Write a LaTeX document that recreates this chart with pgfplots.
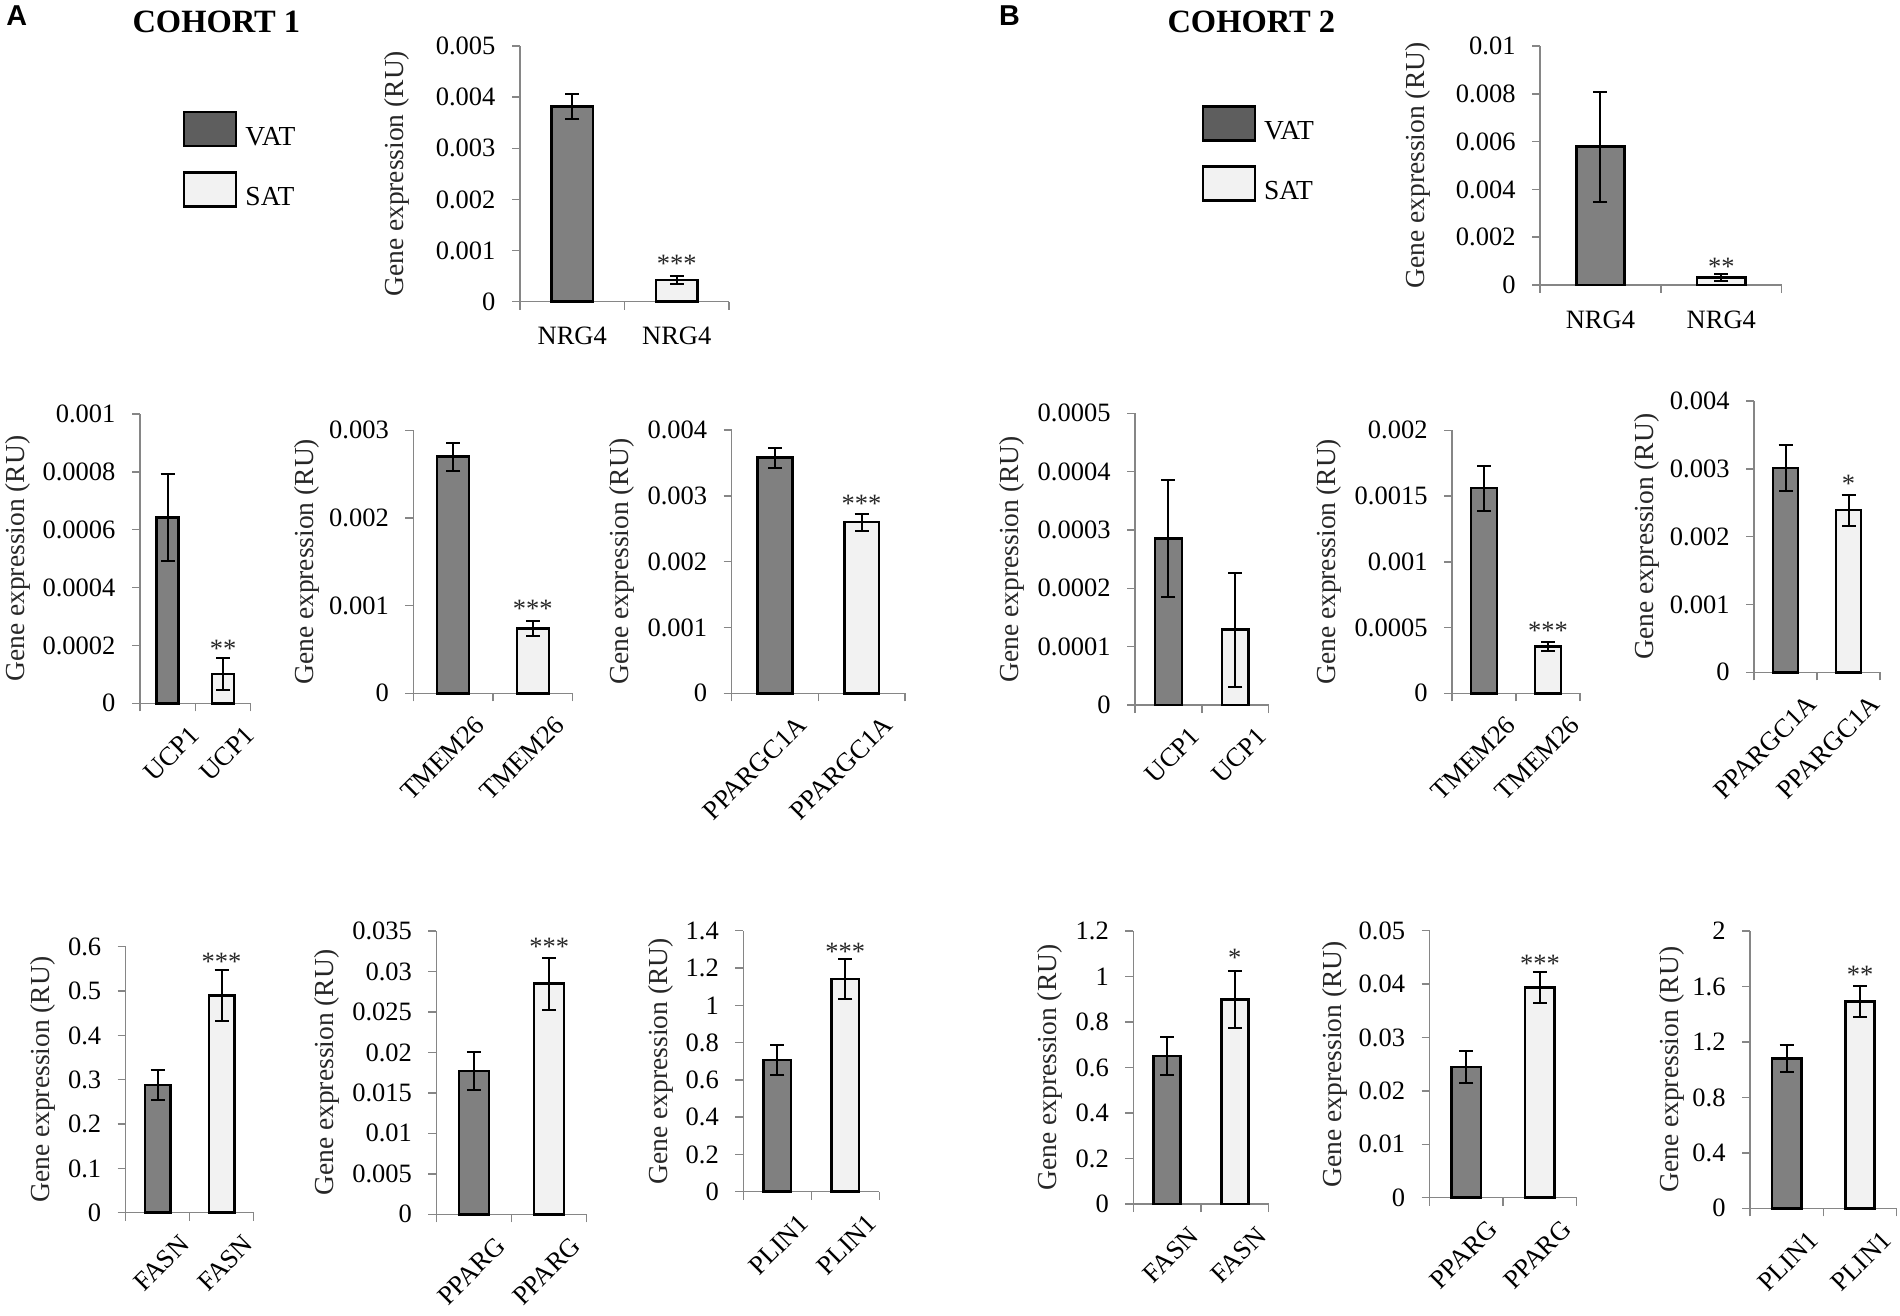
\documentclass[border=0pt]{standalone}
\usepackage{fontspec}
\setmainfont{Liberation Serif}
\newfontfamily\sansfont{Liberation Sans}
\usepackage{pgfplots}
\pgfplotsset{compat=1.18}
\definecolor{vatgray}{HTML}{808080}
\definecolor{veggray}{HTML}{5E5E5E}
\definecolor{satgray}{HTML}{F2F2F2}
\definecolor{axgray}{HTML}{868686}
\definecolor{labcol}{HTML}{262626}
\newcommand\tickfont{\fontsize{10.6}{12}\selectfont}
\newcommand\labfont{\fontsize{11}{13}\selectfont}
\tikzset{sig/.style={font=\tickfont, text=labcol, yshift=-1.6pt}}
\pgfplotsset{
  gx/.style={
    scale only axis, anchor=south west, clip=false,
    xmin=0, xmax=2, ymin=0,
    axis lines*=left,
    axis line style={draw=axgray, line width=0.6pt},
    tick align=outside,
    major tick length=3.2pt,
    tick style={draw=axgray, line width=0.6pt},
    xtick={0,1,2}, xticklabels={},
    extra x ticks={0.5,1.5},
    scaled y ticks=false,
    yticklabel style={font=\tickfont, text=black, anchor=east, inner sep=0pt, xshift=-6.4pt},
    every axis y label/.style={rotate=90, anchor=center, font=\labfont, text=labcol},
    ylabel={Gene expression (RU)},
  },
  flat/.style={extra x tick style={major tick length=0pt, xticklabel style={font=\tickfont, text=black, anchor=north, inner sep=0pt, yshift=-10pt}}},
  rot/.style={extra x tick style={major tick length=0pt, xticklabel style={font=\tickfont, text=black, rotate=45, anchor=north east, inner sep=0pt, yshift=-11.6pt}}},
  vat/.style={ybar, bar shift=0pt, bar width=0.40, fill=vatgray, draw=black, line width=1pt, forget plot,
     /pgfplots/error bars/y dir=both, /pgfplots/error bars/y explicit,
     /pgfplots/error bars/error mark=-,
     /pgfplots/error bars/error bar style={line width=0.8pt, draw=black},
     /pgfplots/error bars/error mark options={rotate=90, line width=0.8pt, draw=black, mark size=2.8pt}},
  sat/.style={vat, fill=satgray},
  leg/.style={
    legend style={draw=none, fill=none, inner sep=0pt, outer sep=0pt, row sep=8.8pt, column sep=0pt, anchor=north west, nodes={inner sep=0pt, font=\labfont}},
    legend cell align=left,
    legend image code/.code={\draw[##1] (0pt,-3.2pt) rectangle (20.8pt,10.4pt); \path (24pt,0pt);},
  },
}
\begin{document}
\begin{tikzpicture}
\useasboundingbox (0pt,0pt) rectangle (760pt,-526.4pt);
% panel labels
\node[anchor=base west, inner sep=0pt, font=\sansfont\bfseries\fontsize{11.5}{13}\selectfont] at (2.4pt,-10.4pt) {A};
\node[anchor=base west, inner sep=0pt, font=\bfseries\fontsize{13}{15}\selectfont] at (52.8pt,-13.2pt) {COHORT 1};
\node[anchor=base west, inner sep=0pt, font=\sansfont\bfseries\fontsize{11.5}{13}\selectfont] at (399.4pt,-10.4pt) {B};
\node[anchor=base west, inner sep=0pt, font=\bfseries\fontsize{13}{15}\selectfont] at (466.8pt,-13.2pt) {COHORT 2};

% ================= COHORT 1 =================
% NRG4
\begin{axis}[gx, flat, leg, at={(208pt,-120.68pt)}, width=83.6pt, height=102.28pt,
  ymax=0.005, ytick={0,0.001,0.002,0.003,0.004,0.005}, yticklabels={0,0.001,0.002,0.003,0.004,0.005},
  extra x tick labels={NRG4,NRG4},
  ylabel style={at={([xshift=-49.2pt]axis description cs:0,0.5)}},
  legend style={at={(axis description cs:-1.6125,0.7458)}}]
\addplot[vat] coordinates {(0.5,0.00382) +- (0,0.00025)};
\addplot[sat] coordinates {(1.5,0.00042) +- (0,0.00008)};
\node[sig] at (axis cs:1.5,0.00082) {***};
\addlegendimage{fill=veggray, draw=black, line width=1pt}
\addlegendentry{VAT}
\addlegendimage{fill=satgray, draw=black, line width=1pt}
\addlegendentry{SAT}
\end{axis}
% UCP1
\begin{axis}[gx, rot, at={(56pt,-281.32pt)}, width=44.28pt, height=115.72pt,
  ymax=0.001, ytick={0,0.0002,0.0004,0.0006,0.0008,0.001}, yticklabels={0,0.0002,0.0004,0.0006,0.0008,0.001},
  extra x tick labels={UCP1,UCP1},
  ylabel style={at={([xshift=-48.8pt]axis description cs:0,0.5)}}]
\addplot[vat] coordinates {(0.5,0.000643) +- (0,0.00015)};
\addplot[sat] coordinates {(1.5,0.000101) +- (0,0.000055)};
\node[sig] at (axis cs:1.5,0.0002015) {**};
\end{axis}
% TMEM26
\begin{axis}[gx, rot, at={(165.32pt,-277.32pt)}, width=63.76pt, height=105.2pt,
  ymax=0.003, ytick={0,0.001,0.002,0.003}, yticklabels={0,0.001,0.002,0.003},
  extra x tick labels={TMEM26,TMEM26},
  ylabel style={at={([xshift=-42.64pt]axis description cs:0,0.5)}}]
\addplot[vat] coordinates {(0.5,0.0027) +- (0,0.00016)};
\addplot[sat] coordinates {(1.5,0.00074) +- (0,0.000085)};
\node[sig] at (axis cs:1.5,0.001007) {***};
\end{axis}
% PPARGC1A
\begin{axis}[gx, rot, at={(292.68pt,-277.32pt)}, width=69.28pt, height=105.32pt,
  ymax=0.004, ytick={0,0.001,0.002,0.003,0.004}, yticklabels={0,0.001,0.002,0.003,0.004},
  extra x tick labels={PPARGC1A,PPARGC1A},
  ylabel style={at={([xshift=-44pt]axis description cs:0,0.5)}}]
\addplot[vat] coordinates {(0.5,0.00358) +- (0,0.00015)};
\addplot[sat] coordinates {(1.5,0.0026) +- (0,0.00013)};
\node[sig] at (axis cs:1.5,0.002937) {***};
\end{axis}
% FASN
\begin{axis}[gx, rot, at={(50.28pt,-485.08pt)}, width=51.16pt, height=106.4pt,
  ymax=0.6, ytick={0,0.1,0.2,0.3,0.4,0.5,0.6}, yticklabels={0,0.1,0.2,0.3,0.4,0.5,0.6},
  extra x tick labels={FASN,FASN},
  ylabel style={at={([xshift=-33.12pt]axis description cs:0,0.5)}}]
\addplot[vat] coordinates {(0.5,0.288) +- (0,0.034)};
\addplot[sat] coordinates {(1.5,0.49) +- (0,0.057)};
\node[sig] at (axis cs:1.5,0.5745) {***};
\end{axis}
% PPARG
\begin{axis}[gx, rot, at={(174.56pt,-485.72pt)}, width=60.12pt, height=113.32pt,
  ymax=0.035, ytick={0,0.005,0.01,0.015,0.02,0.025,0.03,0.035}, yticklabels={0,0.005,0.01,0.015,0.02,0.025,0.03,0.035},
  extra x tick labels={PPARG,PPARG},
  ylabel style={at={([xshift=-43.84pt]axis description cs:0,0.5)}}]
\addplot[vat] coordinates {(0.5,0.0177) +- (0,0.0023)};
\addplot[sat] coordinates {(1.5,0.0285) +- (0,0.0032)};
\node[sig] at (axis cs:1.5,0.03358) {***};
\end{axis}
% PLIN1
\begin{axis}[gx, rot, at={(297.32pt,-476.68pt)}, width=54.4pt, height=104.4pt,
  ymax=1.4, ytick={0,0.2,0.4,0.6,0.8,1,1.2,1.4}, yticklabels={0,0.2,0.4,0.6,0.8,1,1.2,1.4},
  extra x tick labels={PLIN1,PLIN1},
  ylabel style={at={([xshift=-32.92pt]axis description cs:0,0.5)}}]
\addplot[vat] coordinates {(0.5,0.7065) +- (0,0.083)};
\addplot[sat] coordinates {(1.5,1.141) +- (0,0.107)};
\node[sig] at (axis cs:1.5,1.3056) {***};
\end{axis}

% ================= COHORT 2 =================
% NRG4
\begin{axis}[gx, flat, leg, at={(616pt,-114pt)}, width=96.68pt, height=95.6pt,
  ymax=0.01, ytick={0,0.002,0.004,0.006,0.008,0.01}, yticklabels={0,0.002,0.004,0.006,0.008,0.01},
  extra x tick labels={NRG4,NRG4},
  ylabel style={at={([xshift=-48.8pt]axis description cs:0,0.5)}},
  legend style={at={(axis description cs:-1.4005,0.7531)}}]
\addplot[vat] coordinates {(0.5,0.00579) +- (0,0.0023)};
\addplot[sat] coordinates {(1.5,0.00031) +- (0,0.00015)};
\node[sig] at (axis cs:1.5,0.000933) {**};
\addlegendimage{fill=veggray, draw=black, line width=1pt}
\addlegendentry{VAT}
\addlegendimage{fill=satgray, draw=black, line width=1pt}
\addlegendentry{SAT}
\end{axis}
% UCP1
\begin{axis}[gx, rot, at={(454pt,-282pt)}, width=53.48pt, height=116.68pt,
  ymax=0.0005, ytick={0,0.0001,0.0002,0.0003,0.0004,0.0005}, yticklabels={0,0.0001,0.0002,0.0003,0.0004,0.0005},
  extra x tick labels={UCP1,UCP1},
  ylabel style={at={([xshift=-49.32pt]axis description cs:0,0.5)}}]
\addplot[vat] coordinates {(0.5,0.000285) +- (0,0.0001)};
\addplot[sat] coordinates {(1.5,0.000129) +- (0,0.0000975)};
\end{axis}
% TMEM26
\begin{axis}[gx, rot, at={(580.8pt,-277.32pt)}, width=51.2pt, height=105.2pt,
  ymax=0.002, ytick={0,0.0005,0.001,0.0015,0.002}, yticklabels={0,0.0005,0.001,0.0015,0.002},
  extra x tick labels={TMEM26,TMEM26},
  ylabel style={at={([xshift=-49.36pt]axis description cs:0,0.5)}}]
\addplot[vat] coordinates {(0.5,0.00156) +- (0,0.00017)};
\addplot[sat] coordinates {(1.5,0.000355) +- (0,0.000035)};
\node[sig] at (axis cs:1.5,0.000502) {***};
\end{axis}
% PPARGC1A
\begin{axis}[gx, rot, at={(701.6pt,-268.92pt)}, width=50.4pt, height=108.52pt,
  ymax=0.004, ytick={0,0.001,0.002,0.003,0.004}, yticklabels={0,0.001,0.002,0.003,0.004},
  extra x tick labels={PPARGC1A,PPARGC1A},
  ylabel style={at={([xshift=-42.92pt]axis description cs:0,0.5)}}]
\addplot[vat] coordinates {(0.5,0.00301) +- (0,0.00034)};
\addplot[sat] coordinates {(1.5,0.00239) +- (0,0.00023)};
\node[sig] at (axis cs:1.5,0.002835) {*};
\end{axis}
% FASN
\begin{axis}[gx, rot, at={(453.32pt,-481.6pt)}, width=54.16pt, height=109.2pt,
  ymax=1.2, ytick={0,0.2,0.4,0.6,0.8,1,1.2}, yticklabels={0,0.2,0.4,0.6,0.8,1,1.2},
  extra x tick labels={FASN,FASN},
  ylabel style={at={([xshift=-33.32pt]axis description cs:0,0.5)}}]
\addplot[vat] coordinates {(0.5,0.65) +- (0,0.084)};
\addplot[sat] coordinates {(1.5,0.90) +- (0,0.125)};
\node[sig] at (axis cs:1.5,1.099) {*};
\end{axis}
% PPARG
\begin{axis}[gx, rot, at={(571.8pt,-479.08pt)}, width=58.88pt, height=106.8pt,
  ymax=0.05, ytick={0,0.01,0.02,0.03,0.04,0.05}, yticklabels={0,0.01,0.02,0.03,0.04,0.05},
  extra x tick labels={PPARG,PPARG},
  ylabel style={at={([xshift=-38pt]axis description cs:0,0.5)}}]
\addplot[vat] coordinates {(0.5,0.0245) +- (0,0.003)};
\addplot[sat] coordinates {(1.5,0.0394) +- (0,0.0029)};
\node[sig] at (axis cs:1.5,0.04464) {***};
\end{axis}
% PLIN1
\begin{axis}[gx, rot, at={(700pt,-483.32pt)}, width=58.68pt, height=110.92pt,
  ymax=2, ytick={0,0.4,0.8,1.2,1.6,2}, yticklabels={0,0.4,0.8,1.2,1.6,2},
  extra x tick labels={PLIN1,PLIN1},
  ylabel style={at={([xshift=-31.32pt]axis description cs:0,0.5)}}]
\addplot[vat] coordinates {(0.5,1.08) +- (0,0.095)};
\addplot[sat] coordinates {(1.5,1.49) +- (0,0.112)};
\node[sig] at (axis cs:1.5,1.7137) {**};
\end{axis}
\end{tikzpicture}
\end{document}
